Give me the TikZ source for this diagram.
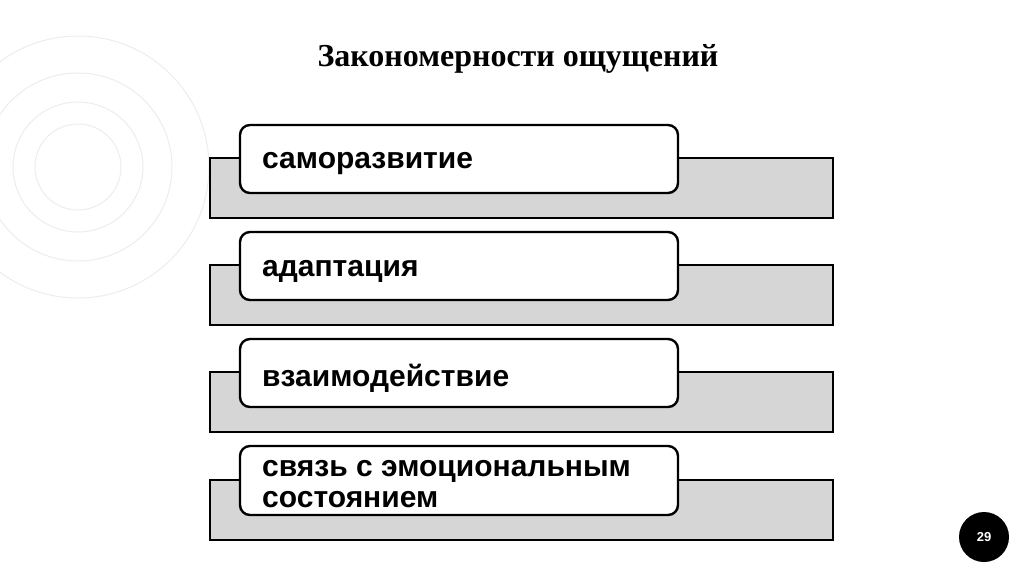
\documentclass[tikz,border=0pt]{standalone}
\usepackage{fontspec}
\setmainfont{Liberation Serif}
\newfontfamily\boxfont{Liberation Sans}
\begin{document}
\begin{tikzpicture}[x=1pt,y=-1pt,
  ring/.style={draw=black!7,line width=1pt},
  shelf/.style={draw=black,fill=black!16,line width=2.4pt},
  card/.style={draw=black,fill=white,line width=2.4pt,rounded corners=10pt},
  lbl/.style={font=\boxfont\bfseries\fontsize{30}{31}\selectfont,anchor=west,align=left,inner sep=0pt}]
\useasboundingbox (0,0) rectangle (1024,574);
\fill[white] (0,0) rectangle (1024,574);
% background rings
\foreach \r in {43,65,94,131} \draw[ring] (78,167) circle (\r);
% title
\node (title) at (518,59) {\bfseries\fontsize{32}{34}\selectfont Закономерности ощущений};
% rows
\foreach \i/\y/\t in {1/125/саморазвитие,2/232/адаптация,3/339/взаимодействие}{
  \draw[shelf] (210,\y+33) rectangle (833,\y+93);
  \draw[card] (240,\y) rectangle (678,\y+68);
  \node[lbl] (t\i) at (262,\y+39) {\t};
}
\draw[shelf] (210,480) rectangle (833,540);
\draw[card] (240,446) rectangle (678,515);
\node[lbl] (t4) at (262,484) {связь с эмоциональным\\состоянием};
% page number
\fill (984,537) circle (25);
\node[text=white,font=\boxfont\bfseries\fontsize{13}{14}\selectfont] (pg) at (984,537) {29};
\end{tikzpicture}
\end{document}
